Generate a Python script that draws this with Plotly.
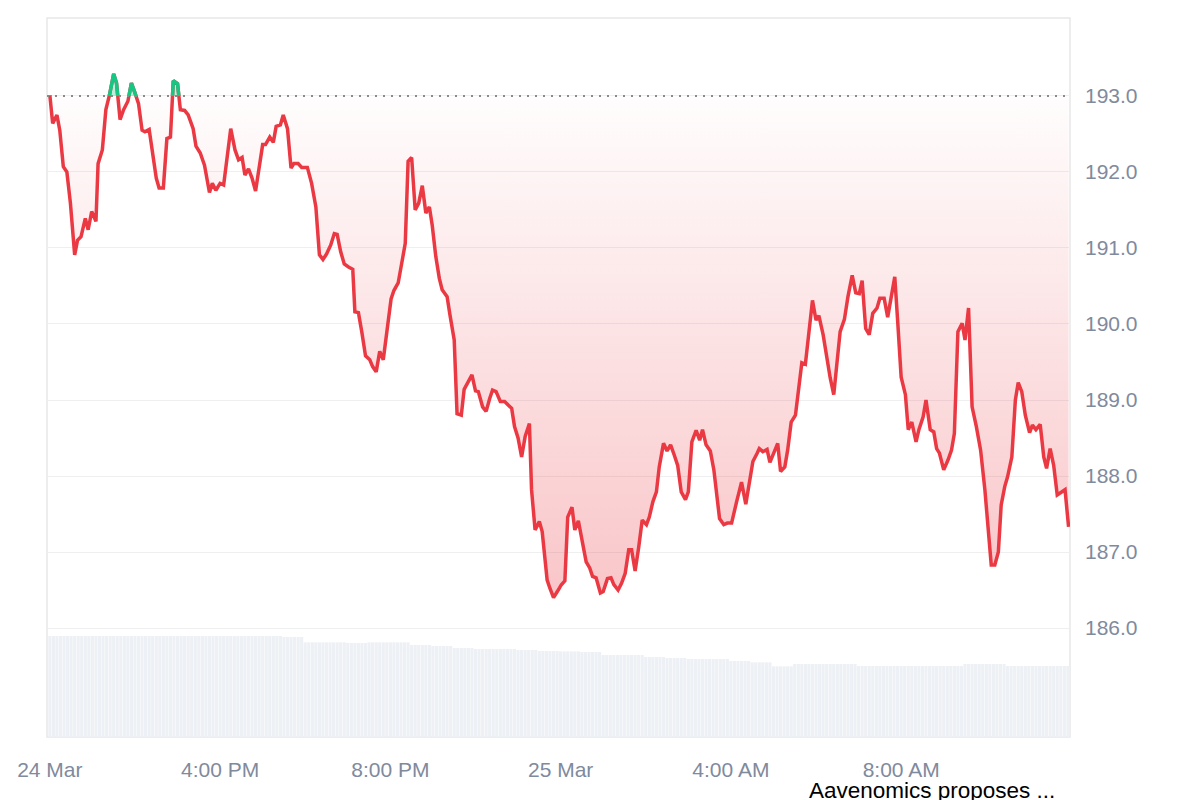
import numpy as np
import pandas as pd
import plotly.graph_objects as go

# price samples, minutes after 24 Mar 12:00
start = pd.Timestamp("2025-03-24 12:00")
minutes = [
    0, 4, 10, 14, 19, 24, 29, 35, 39, 44, 50, 54, 59, 65, 68, 74, 79, 84, 90, 94,
    99, 104, 110, 115, 120, 125, 130, 134, 140, 145, 150, 154, 160, 165, 170, 174, 180, 184, 190, 195,
    202, 206, 212, 218, 225, 229, 234, 240, 245, 250, 255, 261, 266, 271, 275, 280, 285, 290, 295, 300,
    304, 310, 315, 319, 325, 329, 335, 340, 344, 350, 355, 363, 369, 375, 380, 385, 390, 396, 401, 405,
    410, 415, 421, 427, 430, 435, 440, 445, 451, 455, 460, 465, 470, 475, 481, 485, 491, 496, 501, 505,
    510, 515, 520, 525, 530, 535, 539, 544, 549, 553, 560, 564, 570, 574, 580, 584, 589, 595, 600, 604,
    610, 615, 620, 624, 629, 635, 641, 646, 651, 655, 660, 665, 670, 676, 679, 684, 690, 694, 701, 705,
    710, 716, 721, 726, 730, 736, 740, 745, 750, 756, 761, 765, 770, 776, 780, 786, 791, 795, 801, 806,
    811, 816, 820, 825, 830, 835, 841, 845, 850, 855, 859, 865, 870, 875, 880, 885, 890, 896, 900, 905,
    911, 916, 920, 925, 931, 936, 944, 950, 955, 961, 968, 975, 981, 987, 991, 997, 1000, 1005, 1011, 1015,
    1020, 1026, 1030, 1036, 1040, 1045, 1051, 1055, 1060, 1065, 1069, 1075, 1080, 1084, 1090, 1095, 1100, 1105, 1110, 1114,
    1120, 1125, 1131, 1136, 1141, 1145, 1150, 1155, 1160, 1166, 1170, 1176, 1181, 1186, 1191, 1195, 1200, 1206, 1210, 1215,
    1221, 1225, 1231, 1235, 1241, 1246, 1250, 1254, 1260, 1266, 1271, 1275, 1280, 1286, 1290, 1295, 1300, 1306, 1312, 1318,
    1322, 1327, 1332, 1337, 1341, 1346, 1350, 1356, 1361, 1365, 1370, 1375, 1381, 1385, 1390, 1396, 1401, 1405, 1410, 1415,
    1420, 1427, 1431, 1436,
]
prices = [
    193.01, 192.64, 192.75, 192.55, 192.07, 192.00, 191.59, 190.91, 191.10, 191.15,
    191.39, 191.24, 191.48, 191.35, 192.11, 192.29, 192.82, 193.01, 193.29, 193.17,
    192.69, 192.82, 192.93, 193.17, 193.04, 192.90, 192.55, 192.53, 192.56, 192.20,
    191.92, 191.79, 191.79, 192.44, 192.46, 193.20, 193.16, 192.82, 192.81, 192.75,
    192.57, 192.34, 192.25, 192.09, 191.73, 191.85, 191.76, 191.85, 191.83, 192.25,
    192.57, 192.29, 192.16, 192.19, 191.96, 192.04, 191.92, 191.75, 192.05, 192.36,
    192.36, 192.46, 192.39, 192.60, 192.62, 192.75, 192.57, 192.05, 192.11, 192.11,
    192.06, 192.06, 191.85, 191.54, 190.91, 190.85, 190.92, 191.04, 191.19, 191.18,
    190.95, 190.79, 190.75, 190.72, 190.16, 190.15, 189.88, 189.58, 189.53, 189.44,
    189.37, 189.64, 189.53, 189.92, 190.33, 190.44, 190.54, 190.80, 191.06, 192.14,
    192.19, 191.50, 191.59, 191.82, 191.46, 191.54, 191.30, 190.89, 190.60, 190.45,
    190.36, 190.12, 189.79, 188.82, 188.80, 189.14, 189.23, 189.33, 189.12, 189.11,
    188.91, 188.85, 189.02, 189.13, 189.11, 188.98, 188.98, 188.93, 188.89, 188.65,
    188.50, 188.25, 188.52, 188.69, 187.82, 187.29, 187.40, 187.27, 186.63, 186.52,
    186.40, 186.49, 186.57, 186.62, 187.46, 187.59, 187.29, 187.41, 187.16, 186.87,
    186.79, 186.68, 186.66, 186.46, 186.48, 186.65, 186.66, 186.57, 186.50, 186.59,
    186.72, 187.03, 187.03, 186.75, 187.06, 187.42, 187.36, 187.46, 187.66, 187.79,
    188.12, 188.43, 188.33, 188.41, 188.28, 188.14, 187.79, 187.69, 187.79, 188.45,
    188.60, 188.47, 188.61, 188.41, 188.33, 188.08, 187.44, 187.36, 187.38, 187.38,
    187.66, 187.92, 187.63, 187.99, 188.19, 188.30, 188.36, 188.32, 188.35, 188.18,
    188.30, 188.43, 188.06, 188.12, 188.34, 188.71, 188.80, 189.09, 189.49, 189.47,
    189.79, 190.31, 190.05, 190.11, 189.86, 189.57, 189.29, 189.07, 189.59, 189.90,
    190.06, 190.36, 190.64, 190.41, 190.40, 190.57, 189.94, 189.86, 190.14, 190.21,
    190.34, 190.34, 190.09, 190.34, 190.62, 190.05, 189.30, 189.07, 188.61, 188.71,
    188.45, 188.61, 188.78, 189.00, 188.61, 188.58, 188.36, 188.30, 188.08, 188.21,
    188.34, 188.56, 189.90, 190.01, 189.79, 190.21, 188.91, 188.65, 188.34, 187.82,
    187.38, 186.83, 186.83, 187.00, 187.62, 187.86, 187.99, 188.25, 189.00, 189.23,
    189.11, 188.80, 188.57, 188.67, 188.61, 188.68, 188.25, 188.10, 188.36, 188.14,
    187.75, 187.79, 187.82, 187.33,
]
open_price = 193.0

# 24h volume ($M), one level per half hour
volume_half_hour = [
    303, 303, 303, 303, 303, 303, 303, 303, 303, 303, 303, 300,
    284, 284, 282, 284, 284, 276, 273, 267, 264, 264, 261, 258,
    257, 255, 246, 246, 240, 237, 234, 234, 228, 224, 212, 219,
    219, 219, 213, 213, 213, 213, 213, 219, 219, 213, 213, 213,
]

x_tick_vals = ["2025-03-24 12:00", "2025-03-24 16:00", "2025-03-24 20:00",
               "2025-03-25 00:00", "2025-03-25 04:00", "2025-03-25 08:00"]
x_tick_text = ["24 Mar", "4:00 PM", "8:00 PM", "25 Mar", "4:00 AM", "8:00 AM"]
y_tick_vals = [186, 187, 188, 189, 190, 191, 192, 193]
event_time = "2025-03-25 08:44"
event_text = "Aavenomics proposes ..."

RED = "#ea3943"
GREEN = "#16c784"
AXIS_TEXT = "#808a9d"
FONT = "Liberation Sans, Arial, sans-serif"

# add crossings with the opening price so the colours split cleanly
t = np.array(minutes, dtype=float)
p = np.array(prices, dtype=float)
tt, pp = [t[0]], [p[0]]
for i in range(1, len(t)):
    a, b = p[i - 1] - open_price, p[i] - open_price
    if a * b < 0:
        f = a / (a - b)
        tt.append(t[i - 1] + f * (t[i] - t[i - 1]))
        pp.append(open_price)
    tt.append(t[i])
    pp.append(p[i])
tt = np.array(tt)
pp = np.array(pp)
xs = start + pd.to_timedelta(tt, unit="min")
below = np.minimum(pp, open_price)
above = np.maximum(pp, open_price)
green_line = np.where(pp >= open_price, pp, np.nan)
base = np.full(len(pp), open_price)

vol = np.repeat(volume_half_hour, 6)
vol_x = start + pd.to_timedelta(np.arange(len(vol)) * 5, unit="min")

fig = go.Figure()

fig.add_trace(
    go.Bar(
        x=vol_x,
        y=vol,
        yaxis="y2",
        marker=dict(color="#edf0f4", line=dict(width=0)),
        hoverinfo="skip",
        showlegend=False,
    )
)

fig.add_trace(go.Scatter(x=xs, y=base, mode="lines", line=dict(width=0),
                         hoverinfo="skip", showlegend=False))
fig.add_trace(
    go.Scatter(
        x=xs,
        y=below,
        mode="none",
        fill="tonexty",
        fillgradient=dict(
            type="vertical",
            start=186.4,
            stop=193.0,
            colorscale=[[0, "rgba(234,57,67,0.29)"], [1, "rgba(234,57,67,0.01)"]],
        ),
        hoverinfo="skip",
        showlegend=False,
    )
)
fig.add_trace(go.Scatter(x=xs, y=base, mode="lines", line=dict(width=0),
                         hoverinfo="skip", showlegend=False))
fig.add_trace(
    go.Scatter(
        x=xs,
        y=above,
        mode="none",
        fill="tonexty",
        fillcolor="rgba(22,199,132,0.28)",
        hoverinfo="skip",
        showlegend=False,
    )
)

fig.add_trace(go.Scatter(x=xs, y=pp, mode="lines", line=dict(color=RED, width=3.5),
                         showlegend=False))
fig.add_trace(go.Scatter(x=xs, y=green_line, mode="lines", connectgaps=False,
                         line=dict(color=GREEN, width=3.5), showlegend=False))

# opening price reference
fig.add_shape(type="line", xref="paper", x0=0, x1=1, yref="y", y0=open_price, y1=open_price,
              line=dict(color="#8a8a8a", width=2, dash="2px,6px"))
# plot frame
fig.add_shape(type="rect", xref="paper", yref="paper", x0=0, x1=1, y0=0, y1=1,
              line=dict(color="#e8e8e8", width=1.5), layer="below")

fig.add_annotation(
    x=event_time, xref="x", y=-0.054, yref="paper",
    text=event_text, showarrow=False, yanchor="top", xanchor="center",
    font=dict(family=FONT, size=22.5, color="#000000"),
)

x_start = start - pd.Timedelta(minutes=4)
x_end = start + pd.Timedelta(minutes=1438)

fig.update_layout(
    width=1200,
    height=800,
    margin=dict(l=39, r=138, t=10, b=71),
    plot_bgcolor="white",
    paper_bgcolor="white",
    font=dict(family=FONT, size=21, color=AXIS_TEXT),
    bargap=0.12,
    hovermode="x",
    xaxis=dict(
        range=[x_start, x_end],
        tickvals=x_tick_vals,
        ticktext=x_tick_text,
        showgrid=False,
        zeroline=False,
        showline=False,
        ticks="",
        ticklabelstandoff=18,
        automargin=False,
    ),
    yaxis=dict(
        side="right",
        range=[184.566, 194.026],
        tickvals=y_tick_vals,
        tickformat=".1f",
        showgrid=True,
        gridcolor="#efefef",
        gridwidth=1,
        zeroline=False,
        showline=False,
        ticks="",
        ticklabelstandoff=14,
        automargin=False,
    ),
    yaxis2=dict(
        overlaying="y",
        range=[0, 2157],
        visible=False,
    ),
)

fig.write_html("out.html")
